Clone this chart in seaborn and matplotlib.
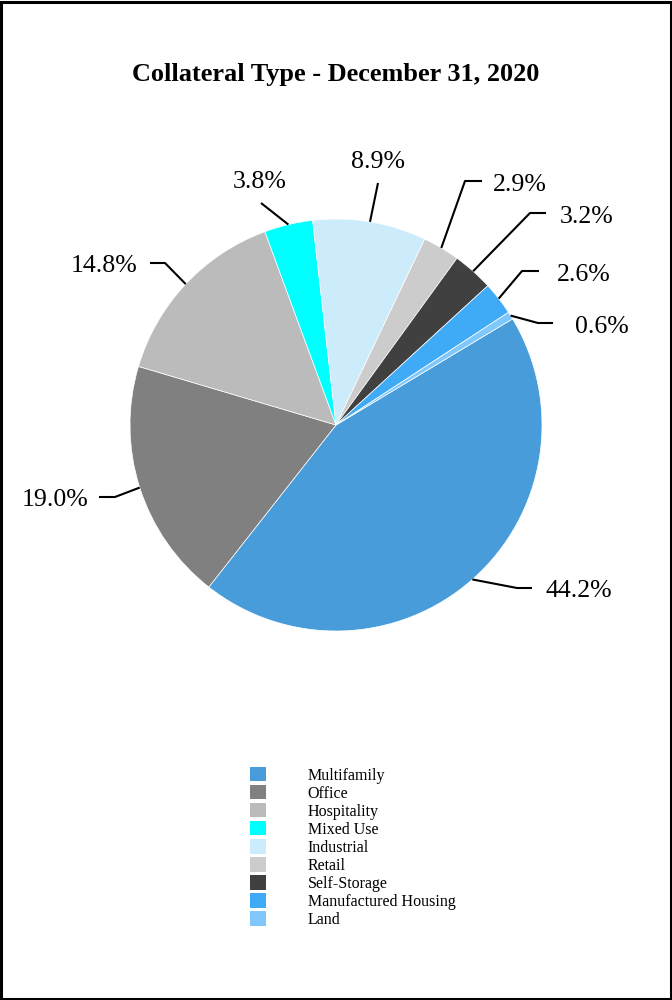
import numpy as np
import matplotlib.pyplot as plt
import seaborn as sns
from matplotlib.patches import Patch, Rectangle

# data
categories = ["Multifamily", "Office", "Hospitality", "Mixed Use", "Industrial",
              "Retail", "Self-Storage", "Manufactured Housing", "Land"]
shares = [44.2, 19.0, 14.8, 3.8, 8.9, 2.9, 3.2, 2.6, 0.6]
colors = ["#479CD9", "#808080", "#BBBBBB", "#00FFFF", "#CCECFC",
          "#CCCCCC", "#404040", "#3FAAF5", "#80C8FC"]
pct_labels = [f"{v:.1f}%" for v in shares]

sns.set_theme(style="white")
plt.rcParams['font.family'] = ['Liberation Serif', 'DejaVu Serif']
plt.rcParams['text.color'] = 'black'

W, H = 672, 1000
cx, cy, R = 336, 425, 206  # pie centre / radius in pixels


def px(x, y):
    # pixel position -> data units of the pie axes
    return (x - cx) / R, (cy - y) / R


# label layout (pixels): text x, text y, alignment, leader points after the wedge anchor
label_layout = [
    (546, 591, 'left', [(517, 588), (532, 588)]),
    (88, 500, 'right', [(115, 497), (99, 497)]),
    (137, 266, 'right', [(165, 263), (150, 263)]),
    (260, 182, 'center', [(261, 203)]),
    (378, 162, 'center', [(378, 183)]),
    (493, 185, 'left', [(465, 181), (482, 181)]),
    (560, 217, 'left', [(530, 213), (546, 213)]),
    (557, 275, 'left', [(522, 271), (539, 271)]),
    (575, 327, 'left', [(538, 323), (553, 323)]),
]

fig = plt.figure(figsize=(W / 100, H / 100), dpi=100)
ax = fig.add_axes([0, 0, 1, 1])
wedges, _ = ax.pie(shares, colors=colors, startangle=31, counterclock=False,
                   radius=1, center=(0, 0),
                   wedgeprops=dict(edgecolor='white', linewidth=0.5))
ax.set_xlim(-cx / R, (W - cx) / R)
ax.set_ylim(-(H - cy) / R, cy / R)
ax.axis('off')

for w, lab, (tx, ty, ha, pts) in zip(wedges, pct_labels, label_layout):
    mid = np.deg2rad((w.theta1 + w.theta2) / 2)
    xs = [np.cos(mid)] + [px(*p)[0] for p in pts]
    ys = [np.sin(mid)] + [px(*p)[1] for p in pts]
    ax.plot(xs, ys, color='black', lw=1.5, solid_capstyle='butt')
    ax.text(*px(tx, ty), lab, ha=ha, va='center', fontsize=18.6)

fig.text(0.5, 1 - 75 / H, "Collateral Type - December 31, 2020",
         ha='center', va='center', fontsize=18.9, fontweight='bold')

handles = [Patch(facecolor=c, edgecolor='none') for c in colors]
fig.legend(handles, categories, loc='upper left',
           bbox_to_anchor=(250 / W, 1 - 767 / H), frameon=False, fontsize=11.5,
           handlelength=1.0, handleheight=1.0, handletextpad=2.6,
           labelspacing=0.09, borderpad=0, borderaxespad=0)

fig.patches.append(Rectangle((0.002, 0.0015), 0.996, 0.997, transform=fig.transFigure,
                             fill=False, edgecolor='black', linewidth=2.2))

plt.savefig('out.png', dpi=100)
